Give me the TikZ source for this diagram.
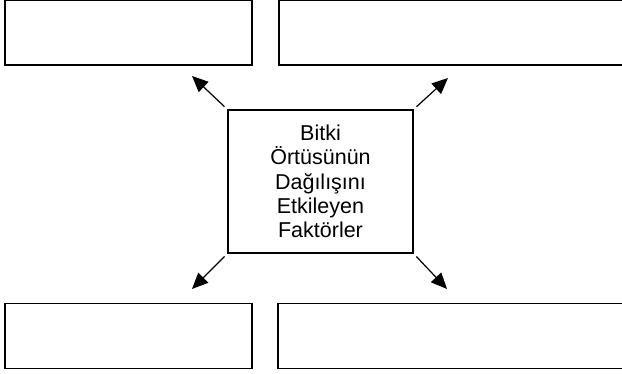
\documentclass[tikz,border=0pt]{standalone}
\usepackage{fontspec}
\setmainfont{Liberation Sans}
\usetikzlibrary{arrows.meta, positioning}

\begin{document}
\begin{tikzpicture}[
    x=1pt, y=1pt,
    emptybox/.style={
        draw,
        line width=1.3pt,
        minimum height=65pt,
        inner sep=0pt,
    },
    factor/.style={
        draw,
        line width=1.3pt,
        minimum width=185pt,
        minimum height=143pt,
        align=center,
        font=\fontsize{21.5}{24.4}\selectfont,
    },
    spread/.style={
        line width=1.2pt,
        -{Triangle[length=16pt, width=14pt]},
        shorten <=4pt,
    }
]
    \useasboundingbox (0,0) rectangle (622,374);
    \clip (0,0) rectangle (622,374);

    % Empty boxes
    \node[emptybox, minimum width=247pt] (boxNW) at (128.5,341.5) {};
    \node[emptybox, minimum width=349pt] (boxNE) at (453.5,341.5) {};
    \node[emptybox, minimum width=247pt] (boxSW) at (128.5,38) {};
    \node[emptybox, minimum width=350pt] (boxSE) at (453,38) {};

    % Central box
    \node[factor] (factors) at (320.5,192.5)
        {Bitki\\Örtüsünün\\Dağılışını\\Etkileyen\\Faktörler};

    % Arrow ends
    \coordinate (tipNW) at (192,298);
    \coordinate (tipNE) at (448,296);
    \coordinate (tipSW) at (192,85);
    \coordinate (tipSE) at (447,85);

    % Arrows
    \draw[spread] (factors.north west) -- (tipNW);
    \draw[spread] (factors.north east) -- (tipNE);
    \draw[spread] (factors.south west) -- (tipSW);
    \draw[spread] (factors.south east) -- (tipSE);
\end{tikzpicture}
\end{document}
